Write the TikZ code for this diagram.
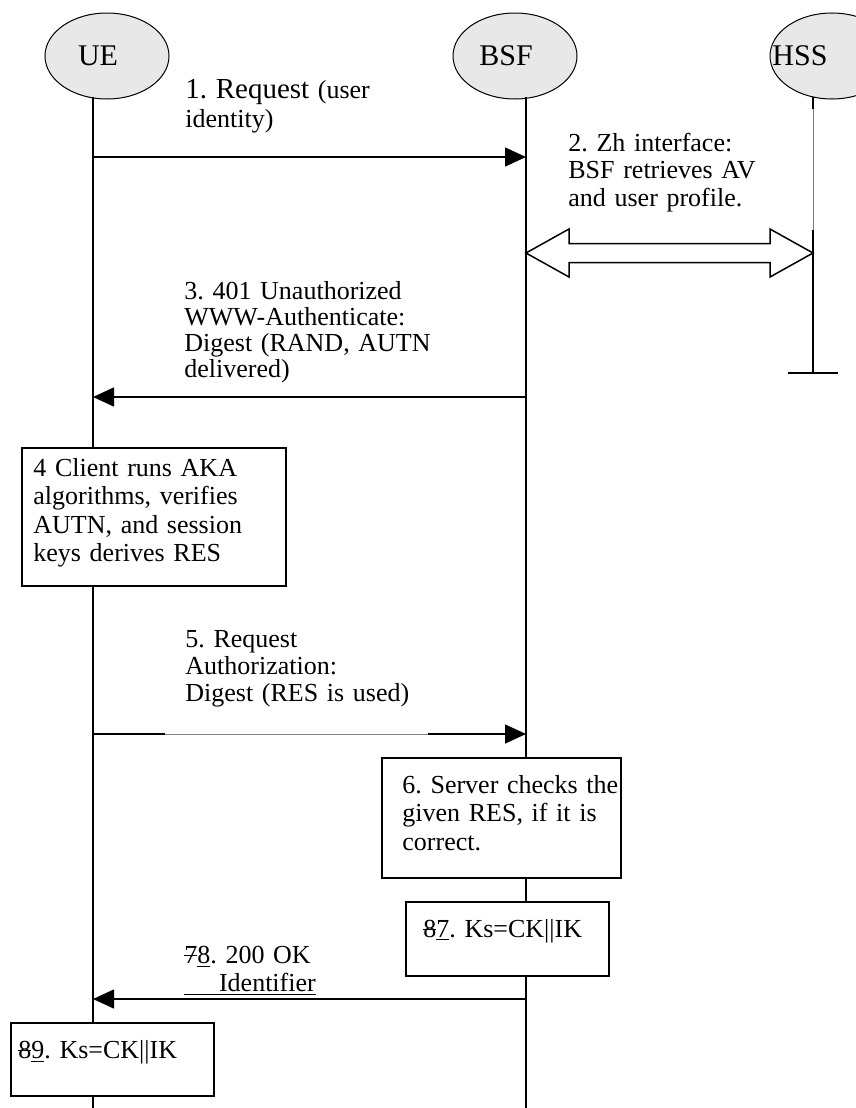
\documentclass[tikz,border=0pt]{standalone}
\usepackage{fontspec}
\setmainfont{Liberation Serif}
\usetikzlibrary{arrows.meta,shapes.geometric,calc}
\frenchspacing
\newcommand\strk[1]{\setbox0\hbox{#1}\rlap{\rule[0.27em]{\wd0}{0.05em}}\box0}

\begin{document}
\begin{tikzpicture}[
  x=0.5pt, y=-0.5pt,
  font=\fontsize{13}{15}\selectfont,
  entity/.style={draw,ellipse,fill=gray!18,line width=0.5pt,minimum width=62pt,minimum height=43pt},
  tag/.style={xshift=-4.5pt,font=\fontsize{15}{16}\selectfont},
  life/.style={line width=0.7pt},
  lifeline/.style={life,shorten <=-1.5pt},
  thinline/.style={gray,line width=0.3pt},
  msg/.style={life,-{Triangle[length=10.5pt,width=9.5pt]}},
  zh/.style={line width=0.75pt,fill=white,line join=miter},
  box/.style={draw,line width=0.75pt,fill=white,anchor=north west,inner sep=0pt},
  note/.style={anchor=base west,inner sep=0pt,text width=135pt,align=left}]

  \useasboundingbox (0,0) rectangle (856,1108);
  \clip (0,0) rectangle (856,1108);

  % the three parties
  \node[entity,label={[tag]center:UE}] (UE) at (107,56) {};
  \node[entity,label={[tag]center:BSF}] (BSF) at (515,56) {};
  \node[entity,label={[tag,xshift=-11.5pt]center:HSS}] (HSS) at (832,56) {};

  % life lines
  \coordinate (ueEnd) at (93,1108);
  \coordinate (bsfEnd) at (526,1108);
  \coordinate (hssTop) at (813,109);
  \coordinate (hssMid) at (813,230);
  \coordinate (hssEnd) at (813,373);
  \draw[lifeline] (UE.south -| ueEnd) -- (ueEnd);
  \draw[lifeline] (BSF.south -| bsfEnd) -- (bsfEnd);
  \draw[lifeline] (HSS.south -| hssTop) -- (hssTop);
  \draw[thinline] (hssTop) -- (hssMid);
  \draw[life] (hssMid) -- (hssEnd);
  \draw[life] ($(hssEnd)+(-25,0)$) -- ($(hssEnd)+(25,0)$);

  % messages between the life lines
  \coordinate (m1) at (0,157);
  \coordinate (m2) at (0,253);
  \coordinate (m3) at (0,397);
  \coordinate (m5) at (0,734);
  \coordinate (m8) at (0,999);
  \draw[msg] (ueEnd |- m1) -- (bsfEnd |- m1);
  \draw[zh] (bsfEnd |- m2) -- ++(43,-24) -- ++(0,14.5) -- ($(hssEnd |- m2)+(-43,-9.5)$)
    -- ++(0,-14.5) -- (hssEnd |- m2) -- ++(-43,24) -- ++(0,-14.5)
    -- ($(bsfEnd |- m2)+(43,9.5)$) -- ++(0,14.5) -- cycle;
  \draw[msg] (bsfEnd |- m3) -- (ueEnd |- m3);
  \draw[life] (ueEnd |- m5) -- ++(72,0) coordinate (gapL);
  \draw[thinline] (gapL) -- ++(263,0) coordinate (gapR);
  \draw[msg] (gapR) -- (bsfEnd |- m5);
  \draw[msg] (bsfEnd |- m8) -- (ueEnd |- m8);

  % boxes on the life lines
  \node[box,minimum width=132pt,minimum height=69pt] (b4) at (21,447) {};
  \node[box,minimum width=119.5pt,minimum height=60pt] (b6) at (381,757) {};
  \node[box,minimum width=101.5pt,minimum height=37pt] (b7) at (405,901) {};
  \node[box,minimum width=101.5pt,minimum height=36.5pt] (b9) at (10,1022) {};
  \node[note,font=\fontsize{13}{14.25}\selectfont] (t4) at ($(b4.north west)+(12,29)$)
    {4 Client runs AKA\\algorithms, verifies\\AUTN, and session\\keys derives RES};
  \node[note,font=\fontsize{13}{14.25}\selectfont] (t6) at ($(b6.north west)+(21,36)$)
    {6. Server checks the\\given RES, if it is\\correct.};
  \node[note] (t7) at ($(b7.north west)+(18,36)$) {\strk{8}\underline{7}. Ks=CK||IK};
  \node[note] (t9) at ($(b9.north west)+(8,36)$) {\strk{8}\underline{9}. Ks=CK||IK};

  % message labels
  \node[note,font=\fontsize{13}{14.5}\selectfont] (t1) at (185,98)
    {{\fontsize{14.5}{14.5}\selectfont 1. Request} (user\\identity)};
  \node[note,font=\fontsize{13}{13.75}\selectfont] (t2) at (568,151)
    {2. Zh interface:\\BSF retrieves AV\\and user profile.};
  \node[note,font=\fontsize{13}{13}\selectfont] (t3) at (184,299)
    {3. 401 Unauthorized\\WWW-Authenticate:\\Digest (RAND, AUTN\\delivered)};
  \node[note,font=\fontsize{13}{13.5}\selectfont] (t5) at (185,647)
    {5. Request\\Authorization:\\Digest (RES is used)};
  \node[note,font=\fontsize{13}{14}\selectfont] (t8) at (184,963)
    {\strk{7}\underline{8}. 200 OK\\\underline{\ \ \ \ Identifier}};
\end{tikzpicture}
\end{document}
